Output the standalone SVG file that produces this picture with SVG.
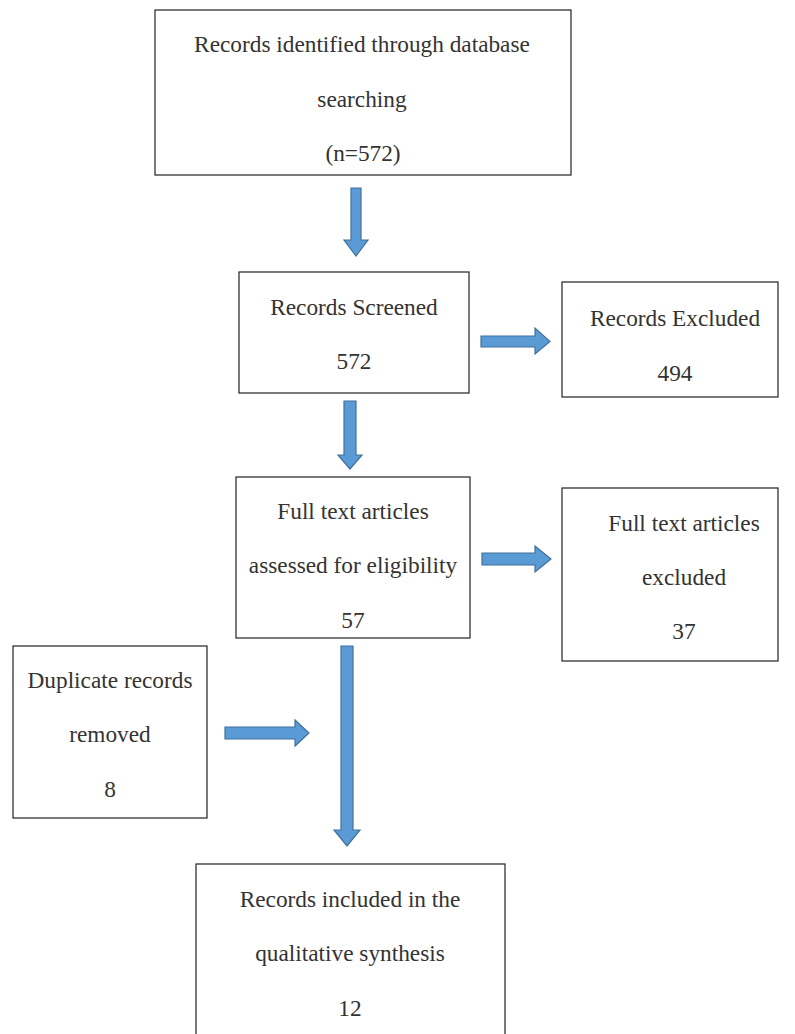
<svg xmlns="http://www.w3.org/2000/svg" width="795" height="1034" viewBox="0 0 795 1034">
<style>
.box{fill:#fff;stroke:#222;stroke-width:1.2}
.t{font-family:"Liberation Serif","DejaVu Serif",serif;font-size:23.3px;fill:#333;text-anchor:middle}
.arr{fill:#5b9bd5;stroke:#41719c;stroke-width:1.2}
</style>
<rect width="795" height="1034" fill="#fff"/>
<g id="n1"><rect class="box" x="155" y="10" width="416" height="165"/>
<text class="t" x="362" y="52">Records identified through database</text>
<text class="t" x="362" y="107">searching</text>
<text class="t" x="363" y="161">(n=572)</text></g>
<g id="n2"><rect class="box" x="239" y="272" width="230" height="121"/>
<text class="t" x="354" y="315">Records Screened</text>
<text class="t" x="354" y="369">572</text></g>
<g id="n3"><rect class="box" x="562" y="282" width="216" height="115"/>
<text class="t" x="675" y="326">Records Excluded</text>
<text class="t" x="675" y="381">494</text></g>
<g id="n4"><rect class="box" x="236" y="477" width="234" height="161"/>
<text class="t" x="353" y="519">Full text articles</text>
<text class="t" x="353" y="573">assessed for eligibility</text>
<text class="t" x="353" y="628">57</text></g>
<g id="n5"><rect class="box" x="562" y="488" width="216" height="173"/>
<text class="t" x="684" y="531">Full text articles</text>
<text class="t" x="684" y="585">excluded</text>
<text class="t" x="684" y="639">37</text></g>
<g id="n6"><rect class="box" x="13" y="646" width="194" height="172"/>
<text class="t" x="110" y="688">Duplicate records</text>
<text class="t" x="110" y="742">removed</text>
<text class="t" x="110" y="797">8</text></g>
<g id="n7"><rect class="box" x="196" y="864" width="309" height="180"/>
<text class="t" x="350" y="907">Records included in the</text>
<text class="t" x="350" y="961">qualitative synthesis</text>
<text class="t" x="350" y="1016">12</text></g>
<g id="connectors">
<path class="arr" d="M351,188 H361 V240 H368 L356,256 L344,240 H351 Z"/>
<path class="arr" d="M344,401 H356 V455 H362 L350,469 L338,455 H344 Z"/>
<path class="arr" d="M481,336 H535 V328 L550,341.5 L535,354 V347 H481 Z"/>
<path class="arr" d="M482,553 H535 V546 L551,559 L535,572 V565 H482 Z"/>
<path class="arr" d="M341,646 H353 V830 H360 L347,846 L334,830 H341 Z"/>
<path class="arr" d="M225,727 H295 V720 L309,733 L295,746 V739 H225 Z"/>
</g>
</svg>
